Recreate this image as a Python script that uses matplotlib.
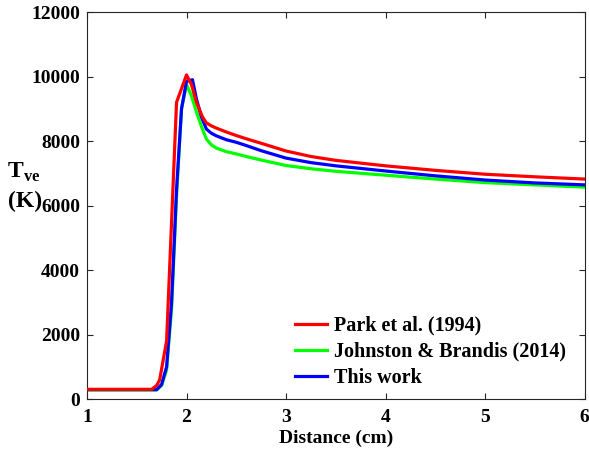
import matplotlib
matplotlib.use("Agg")
import matplotlib.pyplot as plt

plt.rcParams['font.family'] = ['Liberation Serif', 'DejaVu Serif']
plt.rcParams['font.weight'] = 'bold'
plt.rcParams['mathtext.fontset'] = 'custom'
plt.rcParams['mathtext.rm'] = 'Liberation Serif:bold'
plt.rcParams['mathtext.bf'] = 'Liberation Serif:bold'

# Park et al. (1994)
park_x = [1.0, 1.3, 1.65, 1.7, 1.73, 1.8, 1.9, 2.0, 2.05, 2.1, 2.16, 2.2, 2.25, 2.3, 2.4, 2.5, 2.6, 2.75, 3.0, 3.25, 3.5, 4.0, 4.5, 5.0, 5.5, 6.0]
park_y = [300, 300, 300, 420, 590, 1800, 9200, 10050, 9750, 9200, 8750, 8560, 8470, 8400, 8280, 8170, 8070, 7930, 7690, 7520, 7400, 7230, 7090, 6970, 6890, 6820]

# Johnston & Brandis (2014)
jb_x = [1.0, 1.3, 1.7, 1.75, 1.8, 1.85, 1.9, 1.95, 2.0, 2.05, 2.1, 2.15, 2.2, 2.25, 2.3, 2.4, 2.5, 2.6, 2.75, 3.0, 3.25, 3.5, 4.0, 4.5, 5.0, 5.5, 6.0]
jb_y = [280, 280, 280, 420, 900, 2800, 6300, 9000, 9750, 9400, 8900, 8450, 8060, 7880, 7780, 7670, 7600, 7520, 7410, 7240, 7140, 7060, 6940, 6820, 6710, 6640, 6570]

# This work
tw_x = [1.0, 1.3, 1.7, 1.75, 1.8, 1.85, 1.9, 1.95, 2.0, 2.06, 2.1, 2.15, 2.2, 2.25, 2.3, 2.4, 2.5, 2.6, 2.75, 3.0, 3.25, 3.5, 4.0, 4.5, 5.0, 5.5, 6.0]
tw_y = [290, 290, 290, 450, 1000, 3000, 6500, 9000, 9850, 9900, 9300, 8750, 8370, 8240, 8160, 8040, 7960, 7860, 7700, 7470, 7330, 7230, 7070, 6920, 6790, 6700, 6640]

xticks = [1, 2, 3, 4, 5, 6]
yticks = [0, 2000, 4000, 6000, 8000, 10000, 12000]

fig = plt.figure(figsize=(5.89, 4.53), dpi=100)
ax = fig.add_axes([0.1477, 0.1192, 0.8447, 0.8543])

lw = 2.3
ax.plot(jb_x, jb_y, color='#00ff00', lw=lw, label='Johnston & Brandis (2014)', zorder=1)
ax.plot(tw_x, tw_y, color='#0000ff', lw=lw, label='This work', zorder=2)
ax.plot(park_x, park_y, color='#ff0000', lw=lw, label='Park et al. (1994)', zorder=3)

ax.set_xlim(1, 6)
ax.set_ylim(0, 12000)
ax.set_xticks(xticks)
ax.set_yticks(yticks)
ax.tick_params(direction='in', top=True, right=True, labelsize=14, length=4,
               width=0.8, color='#262626')
ax.tick_params(axis='x', pad=7)
ax.tick_params(axis='y', pad=5)
for lab in ax.get_xticklabels() + ax.get_yticklabels():
    lab.set_fontweight('bold')
for sp in ax.spines.values():
    sp.set_color('#262626')
    sp.set_linewidth(0.8)

ax.set_xlabel('Distance (cm)', fontsize=14, fontweight='bold', labelpad=3)
fig.text(0.040, 0.620, r'T$_{\mathbf{ve}}$', fontsize=17, fontweight='bold', ha='center', va='center')
fig.text(0.042, 0.555, '(K)', fontsize=17, fontweight='bold', ha='center', va='center')

handles, labels = ax.get_legend_handles_labels()
order = [2, 0, 1]
leg = ax.legend([handles[i] for i in order], [labels[i] for i in order],
                loc='lower right', bbox_to_anchor=(0.992, -0.008), frameon=False,
                fontsize=14.5, handlelength=1.6, handletextpad=0.35, labelspacing=0.3,
                borderaxespad=0.3)
for t in leg.get_texts():
    t.set_fontweight('bold')

fig.savefig('out.png', dpi=100)
